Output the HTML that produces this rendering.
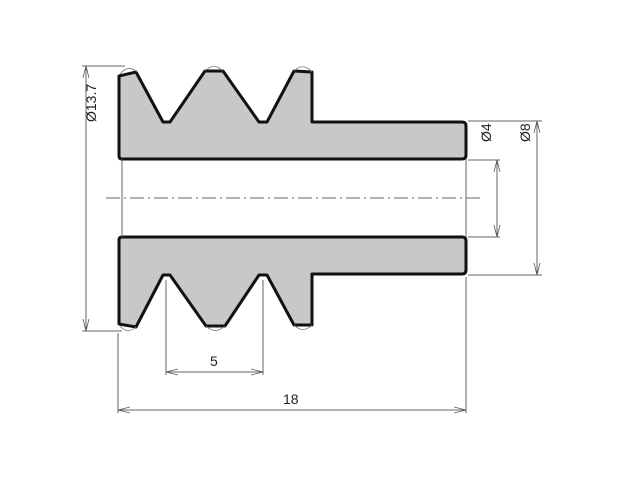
<!DOCTYPE html>
<html><head><style>body{margin:0;background:#fff}svg{display:block}text{font-family:"Liberation Sans",Arial,sans-serif;font-size:14px;fill:#222}</style></head><body>
<svg width="636" height="500" viewBox="0 0 636 500" xmlns="http://www.w3.org/2000/svg">
<defs>
<marker id="a" markerWidth="12" markerHeight="8" refX="12" refY="4" orient="auto-start-reverse" markerUnits="userSpaceOnUse"><path d="M0,1 L12,4 L0,7" fill="none" stroke="#555" stroke-width="0.8"/></marker>
</defs>
<!-- top part -->
<path d="M119,76 L136,72 L163,122 L170,122 L205,71 L223,71 L259,122 L267,122 L294,71 L312,72 L312,122 L462,122 Q466,122 466,126 L466,155 Q466,159 462,159 L122,159 Q119,159 119,156 Z" fill="#c8c8c8" stroke="#111" stroke-width="3" stroke-linejoin="round"/>
<!-- bottom part -->
<path d="M119,324 L136,327 L163,275 L170,275 L206,326 L225,326 L259,275 L267,275 L294,325 L312,325 L312,274 L462,274 Q466,274 466,270 L466,241 Q466,237 462,237 L122,237 Q119,237 119,240 Z" fill="#c8c8c8" stroke="#111" stroke-width="3" stroke-linejoin="round"/>
<!-- tip arcs -->
<g fill="none" stroke="#777" stroke-width="0.8">
<path d="M120,74 Q128,64 137,72"/><path d="M205,71 Q214,62 223,71"/><path d="M294,71 Q303,62 312,72"/>
<path d="M119,325 Q127,335 136,327"/><path d="M206,326 Q215,335 225,326"/><path d="M294,325 Q303,334 312,325"/>
</g>
<!-- bore lines -->
<g stroke="#666" stroke-width="1" fill="none">
<line x1="122" y1="159" x2="122" y2="237"/><line x1="466" y1="159" x2="466" y2="237"/>
<line x1="106" y1="198" x2="482" y2="198" stroke-dasharray="14,4,2,4"/>
<!-- dim 13.7 -->
<line x1="82" y1="66" x2="125" y2="66"/><line x1="82" y1="331" x2="122" y2="331"/>
<line x1="86" y1="66" x2="86" y2="331" marker-start="url(#a)" marker-end="url(#a)"/>
<!-- Ø4 -->
<line x1="468" y1="160" x2="500" y2="160"/><line x1="468" y1="237" x2="500" y2="237"/>
<line x1="497" y1="160" x2="497" y2="237" marker-start="url(#a)" marker-end="url(#a)"/>
<!-- Ø8 -->
<line x1="468" y1="121" x2="542" y2="121"/><line x1="468" y1="275" x2="542" y2="275"/>
<line x1="537" y1="121" x2="537" y2="275" marker-start="url(#a)" marker-end="url(#a)"/>
<!-- 5 -->
<line x1="166" y1="280" x2="166" y2="375"/><line x1="263" y1="280" x2="263" y2="375"/>
<line x1="166" y1="372" x2="263" y2="372" marker-start="url(#a)" marker-end="url(#a)"/>
<!-- 18 -->
<line x1="118" y1="333" x2="118" y2="413"/><line x1="466" y1="277" x2="466" y2="413"/>
<line x1="118" y1="410" x2="466" y2="410" marker-start="url(#a)" marker-end="url(#a)"/>
</g>
<text x="0" y="0" transform="translate(96,122) rotate(-90)">Ø13.7</text>
<text x="0" y="0" transform="translate(491,142) rotate(-90)">Ø4</text>
<text x="0" y="0" transform="translate(530,142) rotate(-90)">Ø8</text>
<text x="210" y="366">5</text>
<text x="283" y="404">18</text>
</svg>
</body></html>
